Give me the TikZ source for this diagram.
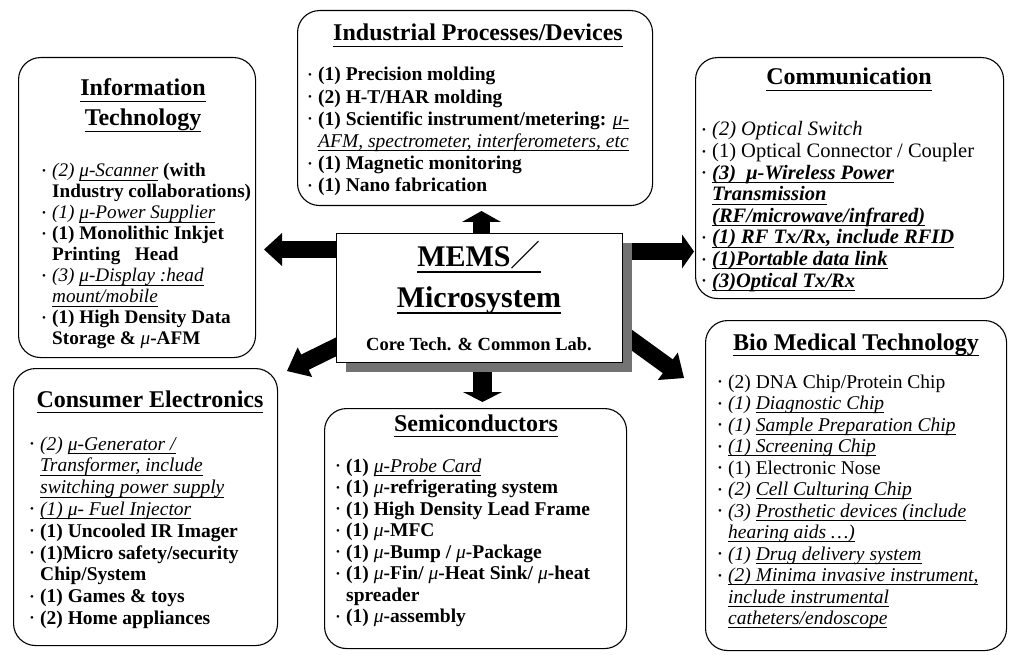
\documentclass[tikz,border=0pt]{standalone}
\usepackage{fontspec}
\setmainfont{Liberation Serif}
\newfontfamily\cjk{Noto Sans CJK SC}
\usetikzlibrary{calc}
\newsavebox{\ulbox}
\newcommand{\ulx}[3]{\sbox{\ulbox}{#3}\rlap{\rule[-#1]{\wd\ulbox}{#2}}\usebox{\ulbox}}
\newcommand{\bul}{\makebox[10pt][l]{\raisebox{2.5pt}{\fontsize{11}{11}\selectfont\mdseries\upshape •}}}
\newcommand{\itm}{\par\hangindent=10pt\hangafter=1\noindent\bul}
\newcommand{\ii}[1]{{\mdseries\itshape #1}}
\newcommand{\uu}[1]{\ulx{3.8pt}{0.9pt}{\ii{#1}}}
\newcommand{\ub}[1]{\ulx{3.8pt}{0.9pt}{\bfseries\itshape #1}}
\newcommand{\ttlu}[1]{\ulx{6pt}{1.3pt}{#1}}
\newcommand{\fatarrow}[5]{%
  \path (#2) coordinate (fa-t) ($(#2)!#3!(#1)$) coordinate (fa-b);
  \draw[line width=#5] (#1) -- ($(#2)!#3-1pt!(#1)$);
  \fill (fa-t) -- ($(fa-b)!#4!90:(fa-t)$) -- ($(fa-b)!#4!-90:(fa-t)$) -- cycle;}
\tikzset{
  catbox/.style={draw, line width=1.1pt, rounded corners=22pt, anchor=north west, inner sep=0pt},
  ttl/.style={anchor=base, inner sep=0pt, font=\fontsize{24}{24}\selectfont\bfseries},
  body/.style={anchor=base west, inner sep=0pt},
}
\begin{document}
\begin{tikzpicture}[x=1pt,y=-1pt]
\fill[white] (0,0) rectangle (1009,655);
\useasboundingbox (0,0) rectangle (1009,655);

% category boxes
\node[catbox, minimum width=355pt, minimum height=195pt] (ind) at (297,10) {};
\node[catbox, minimum width=237pt, minimum height=300pt] (info) at (18,57) {};
\node[catbox, minimum width=308pt, minimum height=241pt] (comm) at (695,57) {};
\node[catbox, minimum width=301pt, minimum height=330pt] (bio) at (705,320) {};
\node[catbox, minimum width=264pt, minimum height=277pt] (cons) at (13,368) {};
\node[catbox, minimum width=302pt, minimum height=240pt] (semi) at (324,408) {};

% titles
\node[ttl] (indT) at (478,41) {\ttlu{Industrial Processes/Devices}};
\node[ttl] (infoT1) at (143,96) {\ttlu{Information}};
\node[ttl] (infoT2) at (143,126) {\ttlu{Technology}};
\node[ttl] (commT) at (849,85) {\ttlu{Communication}};
\node[ttl] (bioT) at (856,350) {\ttlu{Bio Medical Technology}};
\node[ttl] (consT) at (150,407) {\ttlu{Consumer Electronics}};
\node[ttl] (semiT) at (476,431) {\ttlu{Semiconductors}};

% bodies
\node[body] (indB) at (308,81) {\begin{minipage}[t]{340pt}\fontsize{19.5}{22.2}\selectfont\bfseries
\itm (1) Precision molding
\itm (2) H-T/HAR molding
\itm (1) Scientific instrument/metering: \uu{μ-}\\\uu{AFM, spectrometer, interferometers, etc}
\itm (1) Magnetic monitoring
\itm (1) Nano fabrication
\end{minipage}};

\node[body] (infoB) at (42,177) {\begin{minipage}[t]{240pt}\fontsize{19.2}{21}\selectfont\bfseries
\itm \ii{(2)} \uu{μ-Scanner} (with\\Industry collaborations)
\itm \ii{(1)} \uu{μ-Power Supplier}
\itm (1) Monolithic Inkjet\\Printing\ \ \ Head
\itm \ii{(3)} \uu{μ-Display :head}\\\uu{mount/mobile}
\itm (1) High Density Data\\Storage \& \ii{μ}-AFM
\end{minipage}};

\node[body] (commB) at (702,136) {\begin{minipage}[t]{320pt}\fontsize{20.5}{21.6}\selectfont
\itm \ii{(2) Optical Switch}
\itm (1) Optical Connector / Coupler
\itm \ub{(3)\ \ μ-Wireless Power}\\\ub{Transmission}\\\ub{(RF/microwave/infrared)}
\itm \ub{(1) RF Tx/Rx, include RFID}
\itm \ub{(1)Portable data link}
\itm \ub{(3)Optical Tx/Rx}
\end{minipage}};

\node[body] (bioB) at (718,388) {\begin{minipage}[t]{300pt}\fontsize{19.5}{21.5}\selectfont
\itm (2) DNA Chip/Protein Chip
\itm \ii{(1)} \uu{Diagnostic Chip}
\itm \ii{(1)} \uu{Sample Preparation Chip}
\itm \uu{(1) Screening Chip}
\itm (1) Electronic Nose
\itm \ii{(2)} \uu{Cell Culturing Chip}
\itm \ii{(3)} \uu{Prosthetic devices (include}\\\uu{hearing aids …)}
\itm \ii{(1)} \uu{Drug delivery system}
\itm \uu{(2) Minima invasive instrument,}\\\uu{include instrumental}\\\uu{catheters/endoscope}
\end{minipage}};

\node[body] (consB) at (30,450) {\begin{minipage}[t]{260pt}\fontsize{19.5}{21.8}\selectfont\bfseries
\itm \ii{(2)} \uu{μ-Generator /}\\\uu{Transformer, include}\\\uu{switching power supply}
\itm \uu{(1) μ- Fuel Injector}
\itm (1) Uncooled IR Imager
\itm (1)Micro safety/security\\Chip/System
\itm (1) Games \& toys
\itm (2) Home appliances
\end{minipage}};

\node[body] (semiB) at (336,472) {\begin{minipage}[t]{300pt}\fontsize{19.5}{21.5}\selectfont\bfseries
\itm (1) \uu{μ-Probe Card}
\itm (1) \ii{μ}-refrigerating system
\itm (1) High Density Lead Frame
\itm (1) \ii{μ}-MFC
\itm (1) \ii{μ}-Bump / \ii{μ}-Package
\itm (1) \ii{μ}-Fin/ \ii{μ}-Heat Sink/ \ii{μ}-heat\\spreader
\itm (1) \ii{μ}-assembly
\end{minipage}};

% arrow end points
\coordinate (upS) at (481.5,240);  \coordinate (upT) at (481.5,211);
\coordinate (dnS) at (482.5,365);  \coordinate (dnT) at (482.5,402);
\coordinate (ltS) at (345,249.5);  \coordinate (ltT) at (264,249.5);
\coordinate (rtS) at (625,251.5);  \coordinate (rtT) at (694,251.5);
\coordinate (dlS) at (346,342);    \coordinate (dlT) at (287,371);
\coordinate (drS) at (615,328);    \coordinate (drT) at (684,378);

\fatarrow{upS}{upT}{11pt}{19.5pt}{17pt}
\fatarrow{dnS}{dnT}{10pt}{19.5pt}{19pt}
\fatarrow{ltS}{ltT}{18pt}{16.5pt}{17pt}
\fatarrow{rtS}{rtT}{12pt}{17pt}{17pt}
\fatarrow{dlS}{dlT}{20pt}{16.5pt}{17pt}
\fatarrow{drS}{drT}{20pt}{17pt}{17pt}

% central box with shadow
\fill[black!55] (346,243) rectangle (632,372);
\node[draw, fill=white, line width=1pt, minimum width=286pt, minimum height=129pt, anchor=north west, inner sep=0pt] (mems) at (336,233) {};
\node[anchor=base, inner sep=0pt, font=\fontsize{30}{30}\selectfont\bfseries] (memsT1) at (479,266) {\ulx{7pt}{1.8pt}{MEMS{\cjk\mdseries ／}}};
\node[anchor=base, inner sep=0pt, font=\fontsize{30}{30}\selectfont\bfseries] (memsT2) at (479,307) {\ulx{7pt}{1.8pt}{Microsystem}};
\node[anchor=base, inner sep=0pt, font=\fontsize{18.5}{18.5}\selectfont\bfseries] (memsT3) at (479,350) {Core Tech. \& Common Lab.};
\end{tikzpicture}
\end{document}
